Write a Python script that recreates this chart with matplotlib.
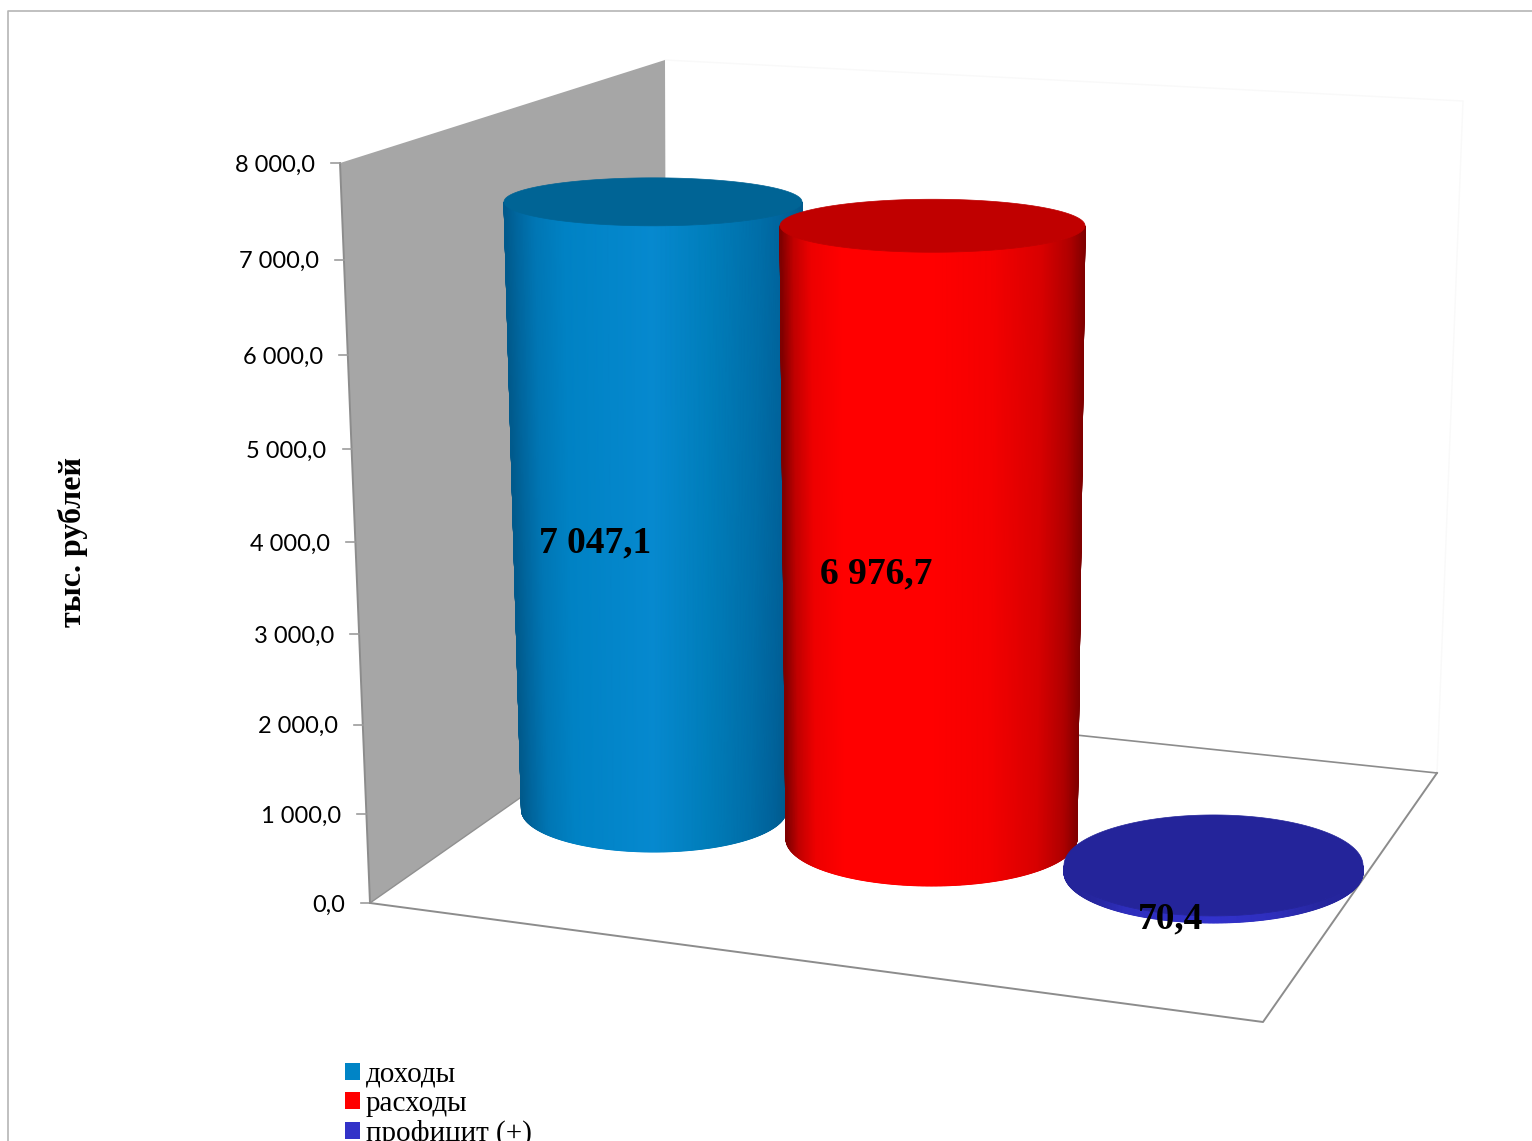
import numpy as np
import matplotlib
matplotlib.use('Agg')
import matplotlib.pyplot as plt
from matplotlib.colors import LinearSegmentedColormap
from matplotlib.patches import Polygon, Patch

# data
categories = ['доходы', 'расходы', 'профицит (+)']
values = [7047.1, 6976.7, 70.4]
tick_values = [0, 1000, 2000, 3000, 4000, 5000, 6000, 7000, 8000]
axis_title = 'тыс. рублей'

# colours for each cylinder: position across the cylinder and its side colour, then top colour
side_stops = [0, .05, .14, .3, .5, .8, .9, .96, 1]
side_colors = [
    ['#005a8c', '#00629a', '#006ea8', '#007dba', '#0689cf', '#0082c4', '#0076b4', '#00669e', '#005a8c'],
    ['#800000', '#b00000', '#d80000', '#f40000', '#ff0000', '#ff0000', '#ee0000', '#c00000', '#800000'],
    ['#24249a', '#24249a', '#26269f', '#2e2ebc', '#3232cc', '#2e2ebc', '#26269f', '#24249a', '#24249a'],
]
top_colors = ['#006495', '#c00000', '#24249a']
legend_colors = ['#0084c6', '#ff0000', '#3232c8']

# layout in picture pixels, the perspective of the bars
base_cx = [654, 931.5, 1213.5]
base_cy = [810, 839, 872.5]
base_rx = [132.5, 145.5, 149.5]
base_ry = [42, 47, 50.5]
top_rx = [149, 152.5, 149.5]
top_ry = [24, 26.5, 50.5]
top_cx = [653, 932.5, 1213.5]
px_per_unit = [.0863, .0879, .1]
label_pos = [(595, 543), (876, 574), (1171, 919)]


def wall_y(v):
    # front edge of the wall is foreshortened, this is a projective scale
    t = v / 8000.0
    return (903 - 747.7 * t) / (1 - .0475 * t)


def wall_x(v):
    return 370 - 30 * (903 - wall_y(v)) / 740.0


def fmt(v):
    return '{:,.1f}'.format(v).replace(',', ' ').replace('.', ',')


def draw_cylinder(ax, i, value):
    cy_top = base_cy[i] - value * px_per_unit[i]
    rx_t, ry_t, cx_t = top_rx[i], top_ry[i], top_cx[i]
    rx_b, ry_b, cx_b = base_rx[i], base_ry[i], base_cx[i]

    th = np.linspace(0, np.pi, 361)
    X = np.vstack([cx_t + rx_t * np.cos(th), cx_b + rx_b * np.cos(th)])
    Y = np.vstack([cy_top + ry_t * np.sin(th), base_cy[i] + ry_b * np.sin(th)])
    U = np.vstack([(1 - np.cos(th)) / 2, (1 - np.cos(th)) / 2])
    cmap = LinearSegmentedColormap.from_list('side%d' % i, list(zip(side_stops, side_colors[i])), N=512)
    ax.pcolormesh(X, Y, U, cmap=cmap, vmin=0, vmax=1, shading='gouraud', zorder=3 + i)

    th2 = np.linspace(0, 2 * np.pi, 300)
    top = np.column_stack([cx_t + rx_t * np.cos(th2), cy_top + ry_t * np.sin(th2)])
    ax.add_patch(Polygon(top, closed=True, fc=top_colors[i], ec=top_colors[i], lw=.5, zorder=3 + i))


fig = plt.figure(figsize=(15.32, 11.41), dpi=100)
ax = fig.add_axes([0, 0, 1, 1])
ax.set_xlim(0, 1532)
ax.set_ylim(1141, 0)
ax.axis('off')

# outer frame
ax.plot([8, 8, 1532], [1141, 11, 11], color='#b5b5b5', lw=1.2, zorder=1)

# faint back wall
ax.plot([665, 1463, 1437], [60, 101, 773], color='#f9f9f9', lw=1, zorder=1)

# left wall
ax.add_patch(Polygon([(wall_x(8000), wall_y(8000)), (665, 60), (667, 695), (wall_x(0), wall_y(0))],
                     closed=True, fc='#a6a6a6', ec='none', zorder=2))

# wall edge, ticks and labels
ax.plot([wall_x(8000), wall_x(0)], [wall_y(8000), wall_y(0)], color='#8c8c8c', lw=1.4, zorder=2.5)
ax.plot([wall_x(0), 667], [wall_y(0), 695], color='#909090', lw=1, zorder=2.5)
for v in tick_values:
    x, y = wall_x(v), wall_y(v)
    ax.plot([x - 9, x], [y, y], color='#9c9c9c', lw=1.2, zorder=2.5)
    ax.text(x - 25, y + 2, fmt(v), ha='right', va='center', family='Lato', fontsize=17, color='black')

# floor
floor_x = [370, 1263, 1437, 667, 370]
floor_y = [903, 1022, 773, 692, 903]
ax.plot(floor_x[:3], floor_y[:3], color='#8c8c8c', lw=1.4, zorder=2.5)
ax.plot(floor_x[2:4], floor_y[2:4], color='#8c8c8c', lw=1.2, zorder=2.5)

# bars
for i, val in enumerate(values):
    draw_cylinder(ax, i, val)
    ax.text(label_pos[i][0], label_pos[i][1], fmt(val), ha='center', va='center',
            family='Liberation Serif', weight='bold', fontsize=27, color='black', zorder=10)

ax.text(73, 542, axis_title, rotation=90, ha='center', va='center',
        family='Liberation Serif', weight='bold', fontsize=23, color='black')

handles = [Patch(fc=c, ec='none') for c in legend_colors]
ax.legend(handles, categories, loc='upper left', bbox_to_anchor=(333, 1050), bbox_transform=ax.transData,
          frameon=False, ncol=1, prop={'family': 'Liberation Serif', 'size': 21},
          handlelength=.53, handleheight=.53, handletextpad=.2, labelspacing=.1,
          borderpad=.4, borderaxespad=0)

fig.savefig('out.png', dpi=100)
